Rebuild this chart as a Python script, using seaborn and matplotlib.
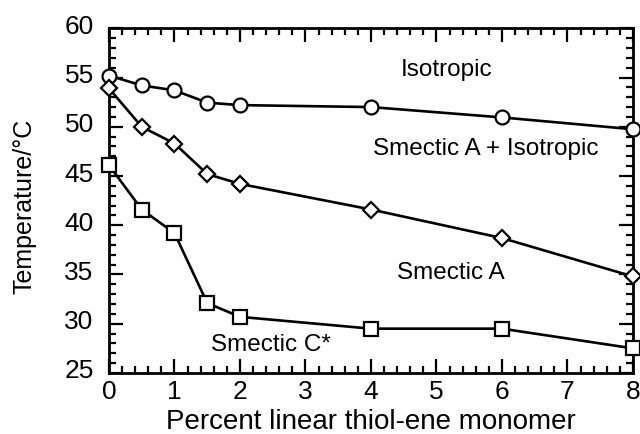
import matplotlib
matplotlib.use("Agg")
import matplotlib.pyplot as plt
import matplotlib.transforms as mtransforms
from matplotlib.ticker import MultipleLocator
import seaborn as sns
import pandas as pd

# Data
x_vals = [0, 0.5, 1, 1.5, 2, 4, 6, 8]
isotropic = [55.2, 54.2, 53.7, 52.45, 52.2, 52.0, 50.95, 49.75]
smectic_a = [53.9, 50.0, 48.3, 45.2, 44.2, 41.6, 38.7, 34.8]
smectic_c = [46.1, 41.6, 39.2, 32.1, 30.7, 29.5, 29.5, 27.5]

xticks = [0, 1, 2, 3, 4, 5, 6, 7, 8]
yticks = [25, 30, 35, 40, 45, 50, 55, 60]

region_labels = ["Isotropic", "Smectic A + Isotropic", "Smectic A", "Smectic C*"]
region_x = [5.15, 5.75, 5.22, 2.47]
region_y = [55.77, 47.75, 35.16, 27.86]

sns.set_theme(style="ticks")
plt.rcParams['font.family'] = ['Liberation Sans', 'DejaVu Sans']
plt.rcParams['text.color'] = 'black'
plt.rcParams['axes.labelcolor'] = 'black'
plt.rcParams['xtick.color'] = 'black'
plt.rcParams['ytick.color'] = 'black'

fig = plt.figure(figsize=(6.4, 4.34), dpi=100)
ax = fig.add_axes([0.1703, 0.1406, 0.8187, 0.7942])

series = [
    (isotropic, 'o', 10),
    (smectic_a, 'D', 8.5),
    (smectic_c, 's', 10),
]
for vals, mk, ms in series:
    df = pd.DataFrame({"x": x_vals, "y": vals})
    sns.lineplot(data=df, x="x", y="y", ax=ax, color="black", linewidth=1.9,
                 marker=mk, markersize=ms, markerfacecolor="white",
                 markeredgecolor="black", markeredgewidth=1.6, sort=False,
                 estimator=None, zorder=3, clip_on=False)

for t, xx, yy in zip(region_labels, region_x, region_y):
    ax.text(xx, yy, t, ha="center", va="center", fontsize=17.5, color="black")

ax.set_xlim(0, 8)
ax.set_ylim(25, 60)
ax.set_xticks(xticks)
ax.set_yticks(yticks)
ax.xaxis.set_minor_locator(MultipleLocator(0.2))
ax.yaxis.set_minor_locator(MultipleLocator(1))
ax.tick_params(which="both", direction="in", top=True, right=True,
               width=1.6, color="black", labelcolor="black")
ax.tick_params(which="major", length=10)
ax.tick_params(which="minor", length=5)
ax.tick_params(axis="x", which="major", labelsize=19, pad=5)
ax.tick_params(axis="y", which="major", labelsize=19, pad=11)
for sp in ax.spines.values():
    sp.set_linewidth(2.0)
    sp.set_color("black")

ax.set_xlabel("Percent linear thiol-ene monomer", fontsize=20, labelpad=4,
              color="black")
ax.set_ylabel("Temperature/°C", fontsize=18, color="black")
ax.yaxis.label.set_va("center")
ax.yaxis.set_label_coords(-0.162, 0.484)

offset = mtransforms.ScaledTranslation(0, 4 / 100, fig.dpi_scale_trans)
for lab in ax.get_yticklabels():
    lab.set_transform(lab.get_transform() + offset)

fig.savefig("out.png", dpi=100)
